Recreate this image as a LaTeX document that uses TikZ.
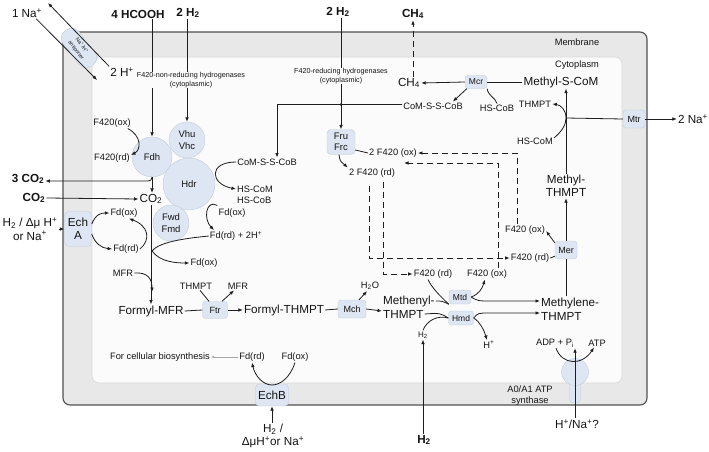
\documentclass[tikz,border=0pt]{standalone}
\usepackage{fontspec}
\setmainfont{Liberation Sans}
\usetikzlibrary{arrows.meta}
\newcommand\myup[1]{\textsuperscript{#1}}
\definecolor{memfill}{RGB}{232,232,232}
\definecolor{memdraw}{RGB}{80,80,80}
\definecolor{cytofill}{RGB}{251,251,251}
\definecolor{cytodraw}{RGB}{215,215,215}
\definecolor{enzfill}{RGB}{221,230,242}
\definecolor{enzdraw}{RGB}{196,205,218}
\definecolor{lc}{RGB}{30,30,30}
\definecolor{txt}{RGB}{20,20,20}
\begin{document}
\begin{tikzpicture}[x=1pt,y=-1pt,
  every node/.style={inner sep=1pt, text=txt},
  lab/.style={font=\fontsize{9.3}{11}\selectfont, align=center},
  big/.style={font=\fontsize{11.7}{13.5}\selectfont, align=center},
  bld/.style={font=\bfseries\fontsize{11.7}{13.5}\selectfont},
  tny/.style={font=\fontsize{7.2}{8.3}\selectfont, align=center},
  enz/.style={draw=enzdraw, fill=enzfill, rounded corners=3pt, font=\fontsize{9}{10.5}\selectfont, align=center, inner sep=2pt},
  cir/.style={circle, draw=enzdraw, fill=enzfill, font=\fontsize{9.5}{11.5}\selectfont, align=center, inner sep=0pt},
  ln/.style={draw=lc, line width=0.8pt},
  arr/.style={ln, -{Latex[length=4.5pt,width=3.6pt]}},
  dsh/.style={dash pattern=on 6pt off 4pt},
]
\useasboundingbox (0,0) rectangle (709,452);
\fill[white] (0,0) rectangle (709,452);
% compartments
\draw[fill=memfill, draw=memdraw, line width=1.1pt, rounded corners=7pt] (63,32) rectangle (647,405);
\draw[fill=cytofill, draw=cytodraw, line width=0.6pt, rounded corners=7pt] (92,57) rectangle (622,383);
\node[lab] (membrane) at (577,42) {Membrane};
\node[lab] (cytoplasm) at (577,65) {Cytoplasm};

% antiporter
\node[draw=enzdraw, fill=enzfill, rounded corners=9pt, rotate=-52, minimum width=44pt, minimum height=20pt, font=\fontsize{5.2}{7.2}\selectfont, align=center, inner sep=0pt] (anti) at (79,48) {Na\myup{+}/H\myup{+}\\antiporter};
\node[big] (na1) at (27,13) {1 Na\myup{+}};
\node[big] (h2p) at (122,72) {2 H\myup{+}};
\coordinate (pA) at (48,3);
\coordinate (pB) at (97,80);
\draw[arr] (h2p.north west) -- (pA);
\draw[arr] ([xshift=-7pt]na1.south east) -- (pB);

% left top inputs
\node[bld] (hcooh) at (138,14) {4 HCOOH};
\node[bld] (h2a) at (188,13) {2 H\textsubscript{2}};

% circles
\node[cir, minimum size=40pt] (fdh) at (152,157) {Fdh};
\node[cir, minimum size=36pt] (vhu) at (187,140) {Vhu\\Vhc};
\node[cir, minimum size=52pt] (hdr) at (189,184) {Hdr};
\node[cir, minimum size=36pt] (fwd) at (171,223) {Fwd\\Fmd};

\draw[arr] (hcooh.south -| fdh) -- (fdh.north);
\draw[arr] (h2a.south -| vhu) -- (vhu.north);
\node[tny, fill=cytofill, inner sep=0.5pt] (nonred) at (191,80) {F420-non-reducing hydrogenases\\(cytoplasmic)};

\node[lab] (f420oxa) at (112,123) {F420(ox)};
\node[lab] (f420rda) at (112,158) {F420(rd)};
\draw[arr] ([xshift=-4pt]f420oxa.south east) .. controls (142,136) and (141,150) .. ([yshift=3pt]f420rda.east);

\node[lab, font=\fontsize{11.7}{13.5}\selectfont] (co2) at (151,199) {CO\textsubscript{2}};
\node[bld] (co2b) at (28,179) {3 CO\textsubscript{2}};
\node[bld] (co2c) at (34,198) {CO\textsubscript{2}};
\draw[arr] (fdh.south) -- (fdh.south |- co2.north);
\draw[arr] (152,177) .. controls (151,181) .. (143,181) -- (co2b.east |- 0,181);
\draw[arr] (co2c.east) -- (co2.west);

% EchA
\node[big] (hleft) at (30,229) {H\textsubscript{2} / Δμ H\myup{+}\\or Na\myup{+}};
\node[enz, font=\fontsize{11.7}{13.5}\selectfont, minimum width=27pt, minimum height=35pt, rounded corners=4pt] (echa) at (78,229) {Ech\\A};
\draw[arr] (hleft.east |- echa) -- (echa.west);
\node[lab] (fdoxa) at (124,213) {Fd(ox)};
\node[lab] (fdrda) at (126,249) {Fd(rd)};
\draw[arr] ([yshift=5pt]echa.east) .. controls (96,214) and (101,213) .. (fdoxa.west);
\draw[arr] ([yshift=-5pt]echa.east) .. controls (95,243) and (101,248) .. (fdrda.west);
\draw[arr] (fdrda.east) .. controls (151,240) and (149,226) .. ([xshift=5pt]fdoxa.south);

% main vertical
\node[big] (fmfr) at (151,311) {Formyl-MFR};
\draw[arr] (co2.south) -- (co2.south |- fmfr.north);
\node[lab] (fdrd2) at (236,236) {Fd(rd) + 2H\myup{+}};
\node[lab] (fdoxb) at (204,263) {Fd(ox)};
\draw[ln] (152,251) .. controls (160,241) and (190,238) .. (fdrd2.west);
\draw[arr] (152,251) .. controls (160,262) and (176,263) .. (fdoxb.west);

% Hdr right side
\node[lab] (comssa) at (267,162) {CoM-S-S-CoB};
\node[lab, align=left] (hscom) at (255,194.5) {HS-CoM\\HS-CoB};
\draw[arr] (comssa.west) .. controls (208,162) and (210,184) .. ([yshift=5.5pt]hscom.west);
\node[lab] (fdoxc) at (232,213) {Fd(ox)};
\draw[arr] ([yshift=2pt]fdoxc.north west) .. controls (206,199) and (203,219) .. ([xshift=-22pt]fdrd2.north);

% MFR / Ftr
\node[lab] (mfr) at (123,273) {MFR};
\draw[arr] (mfr.east) .. controls (148,272) and (152,279) .. (152,292);
\node[enz, minimum width=25pt, minimum height=17pt] (ftr) at (215,310) {Ftr};
\node[lab] (thmpta) at (196,286) {THMPT};
\node[lab] (mfrb) at (238,286) {MFR};
\node[big] (fthmpt) at (284,310) {Formyl-THMPT};
\draw[ln] (fmfr.east) -- (ftr.west);
\draw[arr] (ftr.east) -- (fthmpt.west);
\draw[ln] ([xshift=4pt]thmpta.south) -- ([xshift=-6pt]ftr.north);
\draw[arr] ([xshift=7pt]ftr.north) -- ([xshift=-4pt]mfrb.south);

% Mch
\node[enz, minimum width=28pt, minimum height=18pt] (mch) at (352,309) {Mch};
\node[lab] (h2o) at (370,286) {H\textsubscript{2}O};
\draw[ln] (fthmpt.east) -- (mch.west);
\draw[arr] ([xshift=7pt]mch.north) -- ([xshift=-3pt]h2o.south);
\node[big, anchor=west] (methenyl1) at (382,301) {Methenyl-};
\node[big, anchor=west] (methenyl2) at (382,314) {THMPT};
\draw[arr] (mch.east) -- ([yshift=-2pt]methenyl1.west |- mch);

% Mtd / Hmd
\node[enz, minimum width=22pt, minimum height=14pt, font=\fontsize{8.5}{10}\selectfont] (mtd) at (460,297) {Mtd};
\node[enz, minimum width=25pt, minimum height=14pt, font=\fontsize{8.5}{10}\selectfont] (hmd) at (461,318) {Hmd};
\draw[ln] (methenyl1.east) .. controls (442,301) .. (mtd.south west);
\draw[ln] (methenyl2.east) .. controls (440,313) .. (hmd.west);
\node[lab, font=\fontsize{8}{9}\selectfont] (h2b) at (423,335) {H\textsubscript{2}};
\node[bld] (h2c) at (424,440) {H\textsubscript{2}};
\draw[arr] (h2b.south |- h2c.north) -- (h2b.south);
\draw[ln] (h2b.north) .. controls (427,320) and (438,315) .. (hmd.west);
\node[lab] (f420rdb) at (433,274) {F420 (rd)};
\node[lab] (f420oxb) at (487,274) {F420 (ox)};
\draw[ln] ([xshift=-5pt]f420rdb.south) .. controls (432,288) and (440,296) .. (mtd.south west);
\draw[arr] (mtd.east) .. controls (479,294) and (482,289) .. ([xshift=-2pt]f420oxb.south);
\node[big, anchor=west] (methylene1) at (540,303) {Methylene-};
\node[big, anchor=west] (methylene2) at (540,316) {THMPT};
\draw[arr] (mtd.east) .. controls (478,301) .. (490,301) -- ([yshift=2pt]methylene1.west);
\draw[arr] (hmd.east) .. controls (478,313) .. (490,313) -- ([yshift=3pt]methylene2.west);
\node[lab] (hp) at (489,345) {H\myup{+}};
\draw[arr] (hmd.east) .. controls (480,322) and (484,330) .. ([xshift=-2pt]hp.north);

% Mer
\node[enz, minimum width=22pt, minimum height=18pt] (mer) at (566,250) {Mer};
\node[big] (methylthmpt) at (566,186) {Methyl-\\THMPT};
\node[lab] (f420oxc) at (525,230) {F420 (ox)};
\node[lab] (f420rdc) at (530,258) {F420 (rd)};
\draw[ln] (mer.south) -- (mer.south |- methylene1.north);
\draw[arr] (mer.north) -- (methylthmpt.south);
\draw[arr] ([yshift=-2pt]mer.north west) -- ([yshift=-1pt]f420oxc.east);
\draw[ln] ([yshift=3pt]mer.south west) -- (f420rdc.east);

% Methyl-S-CoM, Mtr
\node[big] (mscom) at (561,82) {Methyl-S-CoM};
\draw[arr] (methylthmpt.north) -- (methylthmpt.north |- mscom.south);
\node[lab] (thmptb) at (535,104) {THMPT};
\node[lab] (hscomb) at (535,141) {HS-CoM};
\coordinate (jn) at (566,118);
\node[enz, minimum width=22pt, minimum height=18pt] (mtr) at (634,119) {Mtr};
\node[big] (na2) at (693,119) {2 Na\myup{+}};
\draw[arr] ([yshift=3pt]hscomb.east) .. controls (562,131) and (566,125) .. (jn) .. controls (566,110) and (561,105) .. (thmptb.east);
\draw[ln] (jn) -- (mtr.west);
\draw[arr] (mtr.east) -- (na2.west);

% Mcr
\node[enz, minimum width=22pt, minimum height=13pt, font=\fontsize{8.5}{10}\selectfont] (mcr) at (476,82) {Mcr};
\node[big] (ch4a) at (409,83) {CH\textsubscript{4}};
\node[bld] (ch4b) at (413,14) {CH\textsubscript{4}};
\node[lab] (hscobb) at (497,108) {HS-CoB};
\node[lab] (comssb) at (433,106) {CoM-S-S-CoB};
\draw[ln] (mscom.west) -- (mcr.east);
\draw[arr] (mcr.west) -- (ch4a.east);
\draw[ln, dsh, -{Latex[length=4.5pt,width=3.6pt]}] (ch4b.south |- ch4a.north) -- (ch4b.south);
\draw[ln] (hscobb.north) .. controls (495,97) and (488,96) .. (mcr.south east);
\draw[arr] ([xshift=2pt]mcr.south west) -- ([xshift=-11pt]comssb.north east);
\draw[arr] ([yshift=1.5pt]comssb.west) -| ([xshift=10pt]comssa.north);

% Fru / Frc
\node[bld] (h2d) at (338,12) {2 H\textsubscript{2}};
\node[enz, minimum width=28pt, minimum height=25pt, font=\fontsize{9.5}{11.5}\selectfont, rounded corners=4pt] (fru) at (341,142) {Fru\\Frc};
\draw[arr] (h2d.south -| fru) -- (fru.north);
\fill[lc] (fru.north |- comssb.west) ++(0,-1.5) circle (1.3pt);
\node[tny, fill=cytofill, inner sep=0.5pt] (redhyd) at (341,76) {F420-reducing hydrogenases\\(cytoplasmic)};
\node[lab] (f420ox2) at (393,153) {2 F420 (ox)};
\node[lab] (f420rd2) at (372,173) {2 F420 (rd)};
\draw[ln] ([yshift=-8pt]fru.east) -- (f420ox2.west);
\draw[arr] ([xshift=-2pt]fru.south) .. controls (340,161) .. (f420rd2.north west);

% dashed F420 cycling
\coordinate (dEnd) at (404,163);
\draw[ln, dsh, -{Latex[length=4.5pt,width=3.6pt]}] ([xshift=-8pt]f420oxc.north) |- (f420ox2.east);
\draw[ln, dsh, -{Latex[length=4.5pt,width=3.6pt]}] ([xshift=11pt]f420oxb.north) |- (dEnd);
\draw[ln, dsh, -{Latex[length=4.5pt,width=3.6pt]}] ([xshift=-3pt,yshift=-7pt]f420rd2.south) |- (f420rdc.west);
\draw[ln, dsh, -{Latex[length=4.5pt,width=3.6pt]}] ([xshift=11pt,yshift=-3pt]f420rd2.south) |- (f420rdb.west);

% EchB
\node[enz, font=\fontsize{11.7}{13.5}\selectfont, minimum width=33pt, minimum height=22pt, rounded corners=4pt] (echb) at (272,395) {EchB};
\node[big] (h2e) at (273,436) {H\textsubscript{2} /\\ΔμH\myup{+}or Na\myup{+}};
\draw[arr] (h2e.north -| echb) -- (echb.south);
\node[lab] (fdrdb) at (252,357) {Fd(rd)};
\node[lab] (fdoxd) at (295,357) {Fd(ox)};
\node[lab] (cellbio) at (160,357) {For cellular biosynthesis};
\draw[arr] (fdoxd.south) .. controls (290,378) and (280,385) .. (272,385) .. controls (263,385) and (255,376) .. (fdrdb.south);
\draw[draw=gray!70, line width=0.5pt, -{Latex[length=3pt,width=2.6pt]}] (fdrdb.west) -- (cellbio.east);

% ATP synthase
\draw[fill=enzfill, draw=enzdraw, rounded corners=4pt] (569.5,378) rectangle (580.5,403);
\node[circle, fill=enzfill, draw=enzdraw, minimum size=27pt] (atps) at (575,372) {};
\node[lab] (adp) at (555,343) {ADP + P\textsubscript{i}};
\node[lab] (atp) at (597,343) {ATP};
\node[lab] (atpsyn) at (530,395.5) {A0/A1 ATP\\synthase};
\node[big] (hna) at (577,424) {H\myup{+}/Na\myup{+}?};
\draw[arr] ([xshift=1pt]adp.south) .. controls (562,365) and (582,366) .. ([xshift=-3pt]atp.south);
\draw[arr] (hna.north -| atps) -- (atps.north |- adp.south);
\end{tikzpicture}
\end{document}
